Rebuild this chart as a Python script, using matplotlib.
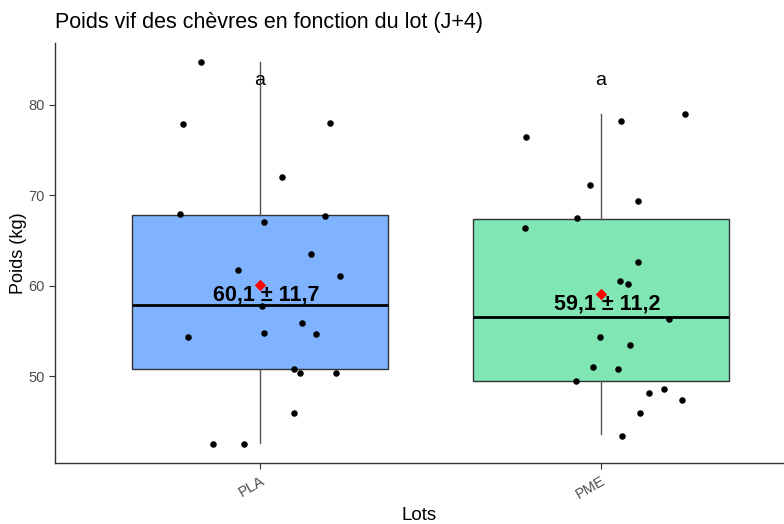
import matplotlib
matplotlib.use('Agg')
import matplotlib.pyplot as plt

plt.rcParams['font.family'] = ['Liberation Sans', 'DejaVu Sans']

# data
lots = ['PLA', 'PME']
box_colors = ['#80B3FF', '#80E6B3']

pla_values = [84.73, 77.88, 77.99, 71.96, 67.90, 67.05, 67.64, 63.44, 61.68, 61.01, 57.73,
              54.27, 54.79, 55.89, 54.68, 50.77, 50.37, 50.37, 45.91, 42.52, 42.52]
pla_jitter = [-0.174, -0.225, 0.205, 0.065, -0.235, 0.012, 0.191, 0.149, -0.064, 0.235, 0.006,
              -0.210, 0.012, 0.123, 0.163, 0.101, 0.117, 0.224, 0.101, -0.137, -0.046]

pme_values = [76.38, 78.14, 78.95, 71.14, 69.37, 67.49, 66.39, 62.63, 60.46, 60.20, 56.26,
              54.27, 53.46, 51.03, 50.74, 49.41, 48.08, 48.60, 47.38, 45.91, 43.34]
pme_jitter = [-0.221, 0.059, 0.248, -0.031, 0.109, -0.070, -0.224, 0.109, 0.055, 0.080, 0.199,
              -0.003, 0.084, -0.024, 0.049, -0.074, 0.141, 0.185, 0.238, 0.115, 0.062]

# box stats (as drawn)
q1 = [50.8, 49.4]
medians = [57.8, 56.5]
q3 = [67.8, 67.3]
whis_lo = [42.6, 43.6]
whis_hi = [84.7, 79.0]

means = [60.1, 59.1]
sds = [11.7, 11.2]
letters = ['a', 'a']

fig = plt.figure(figsize=(7.84, 5.24), dpi=100)
ax = fig.add_axes([55/784, 61/524, 1 - 55/784, (463-43)/524])

stats = []
for i in range(2):
    stats.append({'q1': q1[i], 'med': medians[i], 'q3': q3[i],
                  'whislo': whis_lo[i], 'whishi': whis_hi[i], 'fliers': []})

bp = ax.bxp(stats, positions=[1, 2], widths=0.75, patch_artist=True, showcaps=False,
            boxprops=dict(edgecolor='#333333', linewidth=1.0),
            whiskerprops=dict(color='#555555', linewidth=1.0),
            medianprops=dict(color='black', linewidth=2.0))
for patch, c in zip(bp['boxes'], box_colors):
    patch.set_facecolor(c)

# jittered points
for pos, vals, jit in [(1, pla_values, pla_jitter), (2, pme_values, pme_jitter)]:
    ax.scatter([pos + j for j in jit], vals, s=22, color='black', zorder=3, linewidths=0)

# means
ax.scatter([1, 2], means, marker='D', s=34, color='red', zorder=4, linewidths=0)

for i in range(2):
    lab = f"{means[i]:.1f} ± {sds[i]:.1f}".replace('.', ',')
    ax.text(i + 1.02, means[i] - 1.15, lab, ha='center', va='center',
            fontsize=15.5, fontweight='bold', zorder=5)
    ax.text(i + 1, 82.7, letters[i], ha='center', va='center', fontsize=14, zorder=5)

ax.set_xlim(0.399, 2.537)
ax.set_ylim(40.39, 86.8)
ax.set_yticks([50, 60, 70, 80])
ax.set_xticks([1, 2])
ax.set_xticklabels(lots, rotation=30, ha='right', rotation_mode='anchor')

for s in ['top', 'right']:
    ax.spines[s].set_visible(False)
for s in ['left', 'bottom']:
    ax.spines[s].set_linewidth(1.0)
    ax.spines[s].set_color('#333333')
ax.tick_params(axis='both', colors='#333333', labelcolor='#4D4D4D', labelsize=10.5, length=4)

ax.set_xlabel('Lots', fontsize=13.5, labelpad=4)
ax.set_ylabel('Poids (kg)', fontsize=13, labelpad=1)
ax.set_title('Poids vif des chèvres en fonction du lot (J+4)', fontsize=15.5, loc='left',
             x=0.0, pad=11)

fig.savefig('out.png', dpi=100)
